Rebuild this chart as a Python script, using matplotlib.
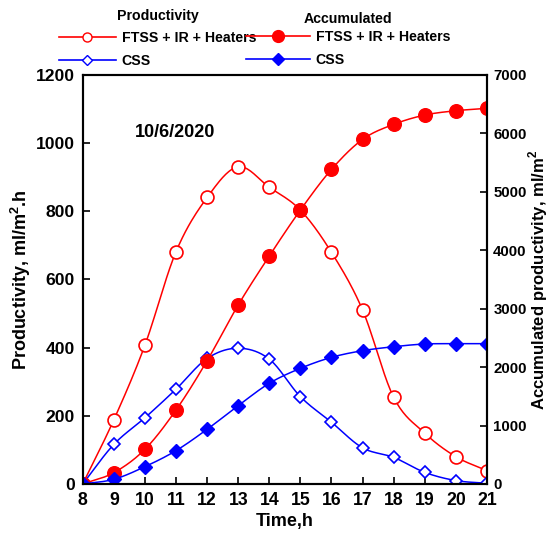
import matplotlib.pyplot as plt
import numpy as np

plt.rcParams['font.family'] = ['Liberation Sans', 'DejaVu Sans']
plt.rcParams['font.weight'] = 'bold'
plt.rcParams['mathtext.fontset'] = 'custom'
plt.rcParams['mathtext.bf'] = 'Liberation Sans:bold'
plt.rcParams['mathtext.rm'] = 'Liberation Sans:bold'

hours = [8, 9, 10, 11, 12, 13, 14, 15, 16, 17, 18, 19, 20, 21]
prod_ftss = [0, 188, 407, 681, 840, 930, 870, 803, 679, 510, 254, 149, 80, 39]
prod_css = [0, 116, 194, 278, 368, 398, 366, 256, 181, 106, 78, 34, 10, 2]
acc_ftss = [0, 193, 593, 1265, 2108, 3061, 3899, 4685, 5381, 5894, 6151, 6310, 6384, 6425]
acc_css = [0, 80, 296, 570, 935, 1339, 1722, 1978, 2166, 2280, 2348, 2394, 2400, 2400]


def smooth(x, y, n=20):
    # catmull-rom, only for the drawn line
    x = np.asarray(x, float); y = np.asarray(y, float)
    px = np.concatenate([[2*x[0]-x[1]], x, [2*x[-1]-x[-2]]])
    py = np.concatenate([[2*y[0]-y[1]], y, [2*y[-1]-y[-2]]])
    xs, ys = [], []
    t = np.linspace(0, 1, n, endpoint=False)
    for i in range(1, len(px)-2):
        for p, out in ((px, xs), (py, ys)):
            p0, p1, p2, p3 = p[i-1], p[i], p[i+1], p[i+2]
            out.extend(0.5*((2*p1) + (-p0+p2)*t + (2*p0-5*p1+4*p2-p3)*t**2 + (-p0+3*p1-3*p2+p3)*t**3))
    xs.append(x[-1]); ys.append(y[-1])
    return xs, ys


fig = plt.figure(figsize=(5.5, 5.43), dpi=100)
ax = fig.add_axes([0.1504, 0.1087, 0.7350, 0.7537])
ax2 = ax.twinx()

red = '#ff0000'
blue = '#0000ff'

ax.plot(*smooth(hours, prod_ftss), color=red, lw=1.1)
ax.plot(hours, prod_ftss, ls='none', marker='o', ms=9.3, mfc='white', mec=red, mew=1.2)
ax.plot(*smooth(hours, prod_css), color=blue, lw=1.1)
ax.plot(hours, prod_css, ls='none', marker='D', ms=6.5, mfc='white', mec=blue, mew=1.2)

ax2.plot(*smooth(hours, acc_ftss), color=red, lw=1.1)
ax2.plot(hours, acc_ftss, ls='none', marker='o', ms=9.8, color=red)
ax2.plot(*smooth(hours, acc_css), color=blue, lw=1.1)
ax2.plot(hours, acc_css, ls='none', marker='D', ms=7, color=blue)

ax.set_xlim(8, 21)
ax.set_ylim(0, 1200)
ax2.set_ylim(0, 7000)
ax.set_xticks(hours)
ax.set_yticks(range(0, 1201, 200))
ax2.set_yticks(range(0, 7001, 1000))
for a in (ax, ax2):
    a.tick_params(direction='in', length=5, width=1.2)
    for s in a.spines.values():
        s.set_linewidth(1.5)
ax.tick_params(axis='x', pad=6, labelsize=12.7)
ax.tick_params(axis='y', pad=5.5, labelsize=12.6)
ax2.tick_params(axis='y', pad=4.5, labelsize=10.8)

ax.set_xlabel('Time,h', fontsize=13, fontweight='bold', labelpad=3)
ax.set_ylabel('Productivity, ml/m$^{2}$.h', fontsize=13, fontweight='bold', labelpad=2)
ax2.set_ylabel('Accumulated productivity, ml/m$^{2}$', fontsize=12, fontweight='bold', labelpad=0)
ax.text(0.129, 0.858, '10/6/2020', transform=ax.transAxes, fontsize=13, fontweight='bold', va='center')

h1 = [plt.Line2D([], [], color=red, lw=1.2, marker='o', ms=6.5, mfc='white', mec=red),
      plt.Line2D([], [], color=blue, lw=1.2, marker='D', ms=5, mfc='white', mec=blue)]
h2 = [plt.Line2D([], [], color=red, lw=1.2, marker='o', ms=8.5),
      plt.Line2D([], [], color=blue, lw=1.2, marker='D', ms=6)]
lab = ['FTSS + IR + Heaters', 'CSS']
legkw = dict(loc='upper left', frameon=False, handletextpad=0.43,
             labelspacing=0.6, borderpad=0, borderaxespad=0,
             prop={'weight': 'bold', 'size': 10.2},
             title_fontproperties={'weight': 'bold', 'size': 10.2})
leg1 = fig.legend(h1, lab, title='Productivity', bbox_to_anchor=(59/550, 1 - 9/543),
                  handlelength=4.0, **legkw)
leg2 = fig.legend(h2, lab, title='Accumulated', bbox_to_anchor=(246/550, 1 - 12/543),
                  handlelength=4.5, **legkw)
leg1._legend_box.sep = 6
leg2._legend_box.sep = 3

fig.savefig('out.png', dpi=100)
